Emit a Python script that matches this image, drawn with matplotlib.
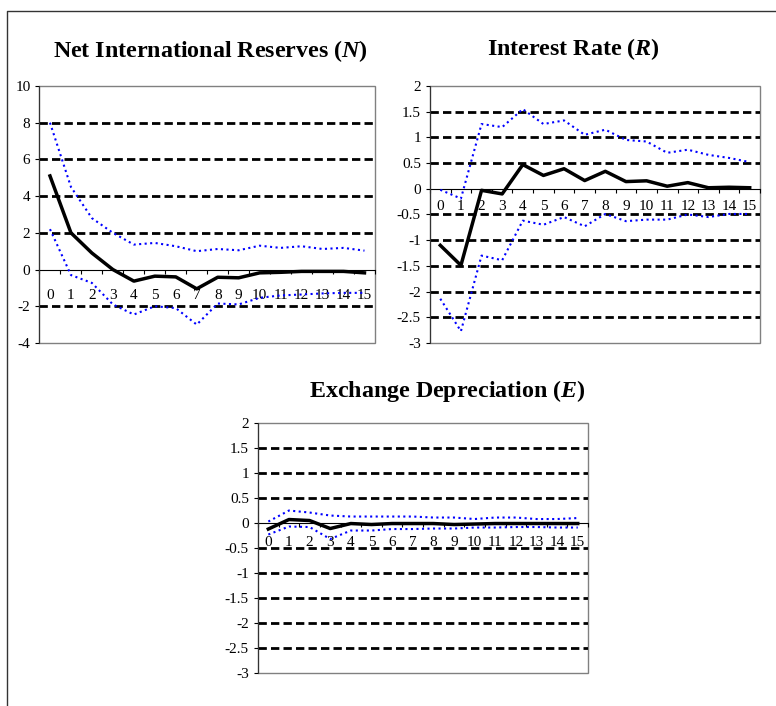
import numpy as np
import matplotlib
matplotlib.use("Agg")
import matplotlib.pyplot as plt
from matplotlib.lines import Line2D

plt.rcParams['font.family'] = ['Liberation Serif', 'DejaVu Serif']
plt.rcParams['mathtext.fontset'] = 'custom'
plt.rcParams['mathtext.it'] = 'Liberation Serif:italic:bold'
plt.rcParams['mathtext.rm'] = 'Liberation Serif:bold'
plt.rcParams['axes.unicode_minus'] = False

# periodos
periodos = list(range(16))

# Reservas internacionales netas (N)
n_resp = [5.1, 2.0, 0.9, 0.0, -0.63, -0.36, -0.4, -1.05, -0.42, -0.45, -0.18, -0.15, -0.1, -0.1, -0.1, -0.18]
n_sup = [8.0, 4.5, 2.8, 2.0, 1.36, 1.45, 1.27, 1.0, 1.12, 1.05, 1.3, 1.18, 1.27, 1.12, 1.18, 1.03]
n_inf = [2.2, -0.3, -0.73, -1.9, -2.45, -2.0, -2.1, -3.0, -1.85, -1.9, -1.54, -1.41, -1.36, -1.3, -1.27, -1.27]

# Tasa de interés (R)
r_resp = [-1.1, -1.49, -0.03, -0.1, 0.47, 0.26, 0.39, 0.16, 0.34, 0.14, 0.155, 0.05, 0.12, 0.02, 0.03, 0.02]
r_sup = [-0.02, -0.19, 1.26, 1.2, 1.55, 1.26, 1.33, 1.05, 1.15, 0.95, 0.92, 0.7, 0.76, 0.66, 0.6, 0.52]
r_inf = [-2.14, -2.77, -1.3, -1.39, -0.62, -0.7, -0.55, -0.73, -0.49, -0.63, -0.6, -0.6, -0.5, -0.55, -0.49, -0.49]

# Depreciación cambiaria (E)
e_resp = [-0.12, 0.07, 0.05, -0.11, -0.01, -0.03, -0.01, -0.01, -0.01, -0.03, -0.02, -0.01, -0.01, -0.01, -0.01, -0.01]
e_sup = [0.03, 0.25, 0.21, 0.15, 0.13, 0.13, 0.13, 0.13, 0.11, 0.11, 0.08, 0.11, 0.11, 0.08, 0.08, 0.1]
e_inf = [-0.23, -0.07, -0.08, -0.32, -0.15, -0.15, -0.12, -0.12, -0.11, -0.11, -0.09, -0.09, -0.08, -0.08, -0.09, -0.09]

yticks_n = [-4, -2, 0, 2, 4, 6, 8, 10]
yticks_r = [-3, -2.5, -2, -1.5, -1, -0.5, 0, 0.5, 1, 1.5, 2]

W, H = 776, 706
fig = plt.figure(figsize=(W / 100, H / 100), dpi=100)

# marco de la figura
fig.add_artist(Line2D([7 / W, 7 / W, 1], [0, 1 - 11 / H, 1 - 11 / H],
                      transform=fig.transFigure, color='#333333', lw=1))


def grafico(rect, titulo, tx, ty, resp, sup, inf, yticks, pad_x):
    ax = fig.add_axes(rect)
    ax.set_xlim(-0.5, 15.5)
    ax.set_ylim(yticks[0], yticks[-1])
    ax.patch.set_edgecolor('#808080')
    ax.patch.set_linewidth(1)
    for lado in ['top', 'right']:
        ax.spines[lado].set_visible(False)
    ax.spines['left'].set_color('#333333')
    ax.spines['bottom'].set_position(('data', 0))
    ax.spines['bottom'].set_color('black')
    ax.spines['bottom'].set_zorder(1.5)

    # líneas de referencia punteadas
    for v in yticks[1:-1]:
        if v != 0:
            ax.axhline(v, color='black', lw=2, ls=(0, (3, 1.5)), zorder=1)

    ax.plot(periodos, sup, color='#0000FF', lw=1.5, ls=':', zorder=3)
    ax.plot(periodos, inf, color='#0000FF', lw=1.5, ls=':', zorder=3)
    ax.plot(periodos, resp, color='black', lw=2.5, zorder=4)

    ax.set_yticks(yticks)
    ax.set_yticklabels([f'{v:g}' for v in yticks], fontsize=11)
    ax.tick_params(axis='y', direction='out', length=3, width=0.8, pad=3.5)
    ax.set_xticks(periodos)
    ax.set_xticklabels([str(p) for p in periodos], fontsize=11)
    ax.set_xticks(np.arange(-0.5, 16, 1), minor=True)
    ax.tick_params(axis='x', which='major', length=0, pad=pad_x)
    ax.tick_params(axis='x', which='minor', direction='out', length=3, width=0.8)
    fig.text(tx / W, 1 - ty / H, titulo, fontsize=17.3, fontweight='bold',
             ha='center', va='baseline')
    return ax


grafico([0.0509, 0.5142, 0.4323, 0.364], 'Net International Reserves ($N$)', 210, 57,
        n_resp, n_sup, n_inf, yticks_n, 14)
grafico([0.5541, 0.5142, 0.4253, 0.364], 'Interest Rate ($R$)', 573, 55,
        r_resp, r_sup, r_inf, yticks_r, 8)
grafico([0.3325, 0.0467, 0.4253, 0.3541], 'Exchange Depreciation ($E$)', 447, 397,
        e_resp, e_sup, e_inf, yticks_r, 9)

fig.savefig('out.png', dpi=100)
